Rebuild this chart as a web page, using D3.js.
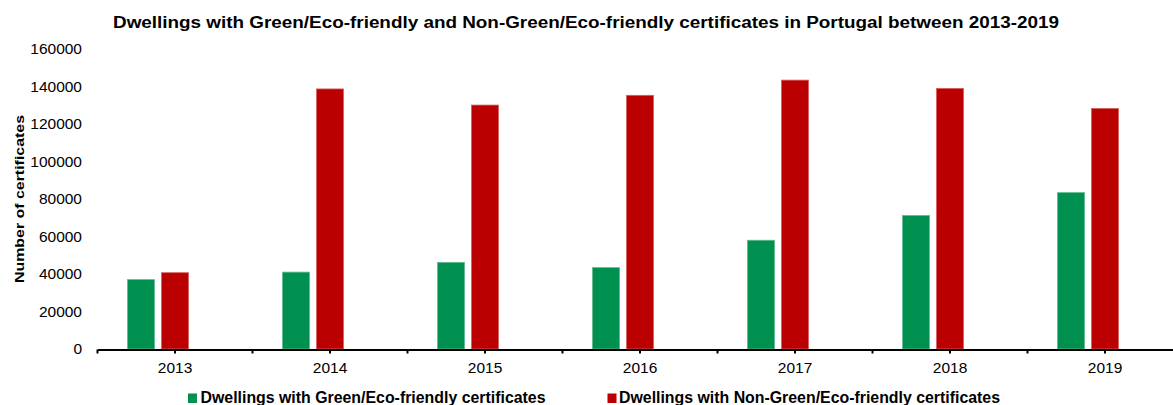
<!DOCTYPE html>
<html>
<head>
<meta charset="utf-8">
<script src="https://cdn.jsdelivr.net/npm/d3@7"></script>
<style>
  html, body { margin: 0; padding: 0; background: #fff; overflow: hidden; }
  svg { display: block; font-family: "Liberation Sans", Arial, sans-serif; }
</style>
</head>
<body>
<svg id="chart" width="1173" height="405"></svg>
<script>
const years = ["2013", "2014", "2015", "2016", "2017", "2018", "2019"];
const greenValues = [37000, 41000, 46200, 43400, 58000, 71200, 83400];
const nonGreenValues = [40700, 138700, 130100, 135300, 143400, 139000, 128300];
const seriesNames = ["Dwellings with Green/Eco-friendly certificates", "Dwellings with Non-Green/Eco-friendly certificates"];
const seriesKeys = ["green", "nonGreen"];
const yTicks = [0, 20000, 40000, 60000, 80000, 100000, 120000, 140000, 160000];
const titleText = "Dwellings with Green/Eco-friendly and Non-Green/Eco-friendly certificates in Portugal between 2013-2019";
const yTitle = "Number of certificates";

const colors = { green: "#009150", nonGreen: "#BA0000" };
const edge = { green: "#5fb890", nonGreen: "#d86060" };

const svg = d3.select("#chart");

const x = d3.scaleBand().domain(years).range([97.5, 97.5 + 7 * 155]).padding(0);
const inner = d3.scaleBand().domain(seriesKeys).range([26.5, 94.5]).paddingInner(0.206).paddingOuter(0.103);
const y = d3.scaleLinear().domain([0, 160000]).range([349, 49]);

const rows = years.map((yr, i) => ({ year: yr, green: greenValues[i], nonGreen: nonGreenValues[i] }));

// Title
svg.append("text")
  .attr("x", 113).attr("y", 28)
  .attr("font-size", 16).attr("font-weight", "bold").attr("fill", "#000")
  .attr("textLength", 946).attr("lengthAdjust", "spacingAndGlyphs")
  .text(titleText);

// Bars
const groups = svg.append("g").selectAll("g").data(rows).join("g")
  .attr("transform", d => `translate(${x(d.year)},0)`);
groups.selectAll("rect")
  .data(d => seriesKeys.map(k => ({ key: k, value: d[k] })))
  .join("rect")
  .attr("x", d => inner(d.key))
  .attr("width", inner.bandwidth())
  .attr("y", d => y(d.value))
  .attr("height", d => y(0) - y(d.value))
  .attr("fill", d => colors[d.key])
  .attr("stroke", d => edge[d.key])
  .attr("stroke-width", 0.8);

// Y axis (labels only)
const yAxis = svg.append("g").attr("transform", "translate(82,0)")
  .call(d3.axisLeft(y).tickValues(yTicks).tickSize(0).tickPadding(0).tickFormat(d3.format("d")));
yAxis.select(".domain").remove();
yAxis.selectAll("text").attr("font-size", 15.5).attr("fill", "#000")
  .attr("font-family", "Liberation Sans, Arial, sans-serif");

// Y title
svg.append("text")
  .attr("transform", "translate(23.5,199) rotate(-90)")
  .attr("text-anchor", "middle")
  .attr("font-size", 13.5).attr("font-weight", "bold").attr("fill", "#000")
  .attr("textLength", 168).attr("lengthAdjust", "spacingAndGlyphs")
  .text(yTitle);

// X axis
const xAxis = svg.append("g").attr("transform", "translate(0,349.5)")
  .call(d3.axisBottom(x).tickSize(4).tickSizeOuter(0).tickPadding(8));
xAxis.select(".domain").attr("stroke", "#000").attr("stroke-width", 2);
xAxis.selectAll(".tick line").attr("stroke", "#000").attr("stroke-width", 2);
xAxis.selectAll("text").attr("font-size", 15.5).attr("fill", "#000")
  .attr("font-family", "Liberation Sans, Arial, sans-serif");
// boundary ticks between categories
xAxis.selectAll("line.bound").data(years).join("line").attr("class", "bound")
  .attr("x1", d => x(d)).attr("x2", d => x(d))
  .attr("y1", 0).attr("y2", 4)
  .attr("stroke", "#000").attr("stroke-width", 2);

// Legend
const legendPos = [
  { sx: 188, tx: 200.5, len: 345 },
  { sx: 607.5, tx: 619, len: 381 }
];
seriesKeys.forEach((k, i) => {
  const p = legendPos[i];
  svg.append("rect").attr("x", p.sx).attr("y", 393.5).attr("width", 9).attr("height", 9.5)
    .attr("fill", colors[k]);
  svg.append("text").attr("x", p.tx).attr("y", 403.3)
    .attr("font-size", 16).attr("font-weight", "bold").attr("fill", "#000")
    .attr("textLength", p.len).attr("lengthAdjust", "spacingAndGlyphs")
    .text(seriesNames[i]);
});
</script>
</body>
</html>
